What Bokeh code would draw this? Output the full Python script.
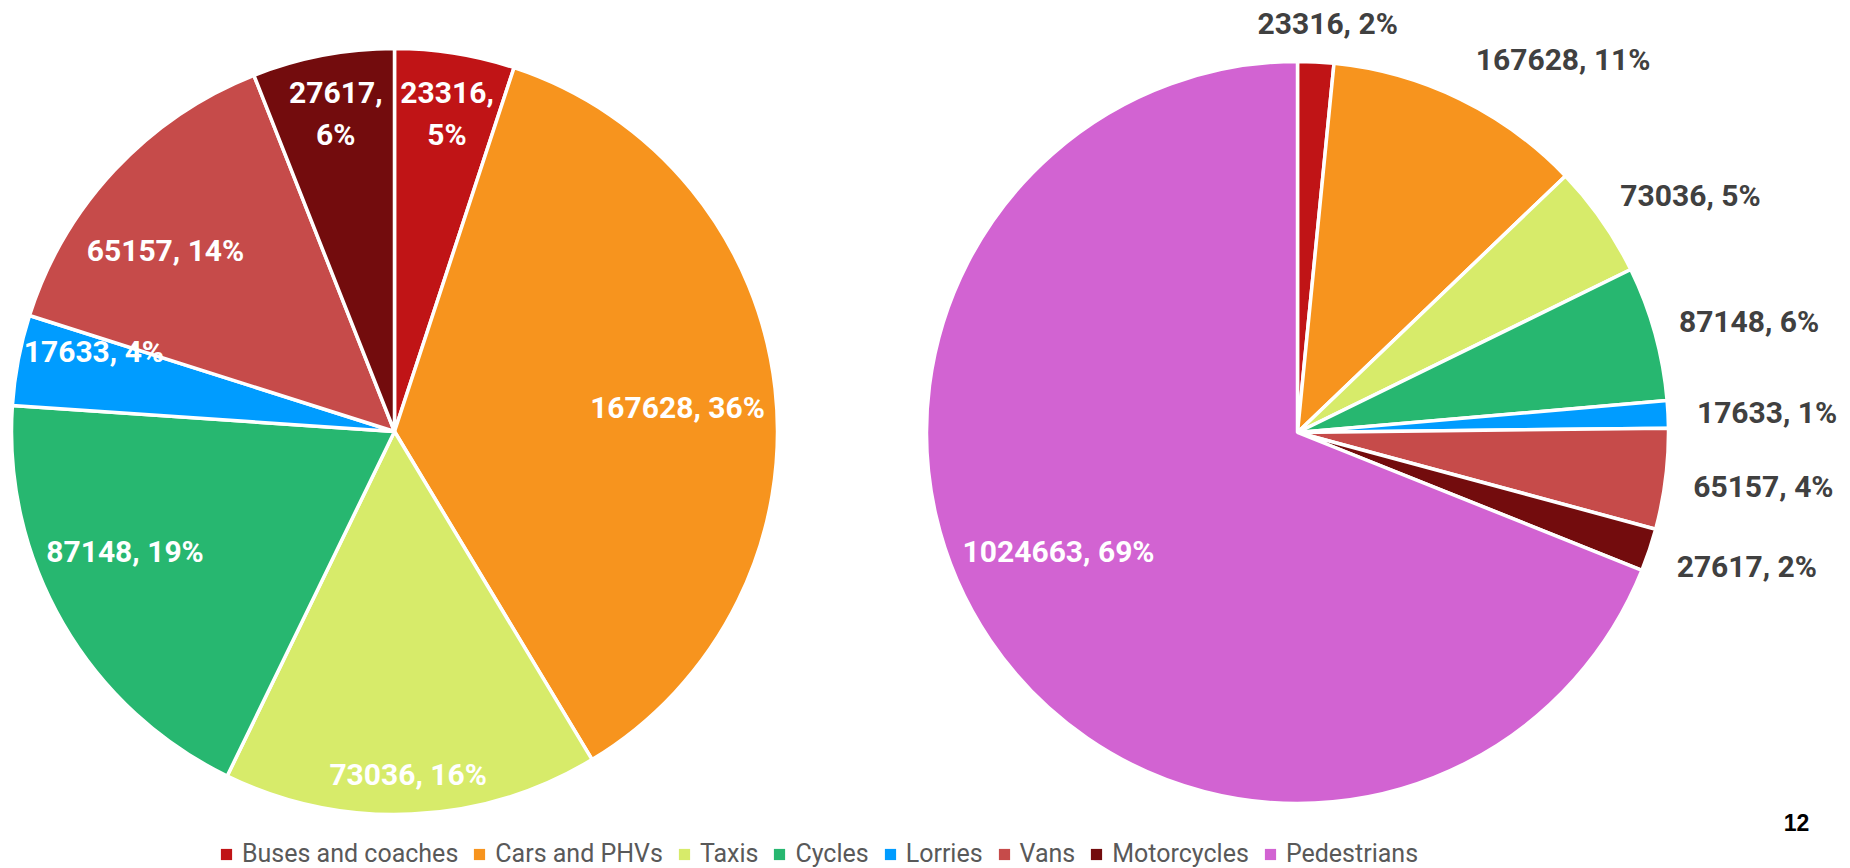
import numpy as np
from bokeh.plotting import figure
from bokeh.models import Range1d, Legend, LegendItem, ColumnDataSource
from bokeh.core.properties import value
from bokeh.embed import file_html
from bokeh.resources import INLINE

# ---------------- data ----------------
categories = ["Buses and coaches", "Cars and PHVs", "Taxis", "Cycles",
              "Lorries", "Vans", "Motorcycles", "Pedestrians"]
vehicle_values = [23316, 167628, 73036, 87148, 17633, 65157, 27617]
pedestrian_values = [1024663]
colors = ["#C01416", "#F7941E", "#D7EB6A", "#27B770",
          "#009CFF", "#C64B4A", "#730C0D", "#D263D2"]
page_number = "12"

# ---------------- layout ----------------
W, H = 1850, 868
FONT = "Roboto"


def to_data(xp, yp):
    # page pixel -> data coordinates
    return xp, H - yp


p = figure(width=W, height=H, x_range=Range1d(0, W), y_range=Range1d(0, H),
           output_backend="svg", toolbar_location=None, min_border=0)
p.axis.visible = False
p.grid.visible = False
p.outline_line_color = None
p.background_fill_color = "white"
p.border_fill_color = "white"


def pie(vals, cols, center, radius, label_r, label_nudge, seps, txt_color):
    vals = np.array(vals, dtype=float)
    frac = vals / vals.sum()
    cum = np.concatenate([[0.0], np.cumsum(frac)])
    start = np.pi / 2 - 2 * np.pi * cum[:-1]
    end = np.pi / 2 - 2 * np.pi * cum[1:]
    cx, cy = center
    src = ColumnDataSource(dict(start=start, end=end, color=cols))
    p.wedge(x=cx, y=cy, radius=radius, start_angle="start", end_angle="end",
            direction="clock", fill_color="color", line_color="white",
            line_width=3.5, source=src)
    mid = 360.0 * (cum[:-1] + frac / 2) + np.array(label_nudge)
    th = np.deg2rad(mid)
    lr = np.array(label_r)
    lx = cx + lr * np.sin(th)
    ly = cy + lr * np.cos(th)
    texts = [f"{int(v)}{s}{int(round(f * 100))}%" for v, s, f in zip(vals, seps, frac)]
    lsrc = ColumnDataSource(dict(x=lx, y=ly, text=texts, color=txt_color))
    p.text(x="x", y="y", text="text", source=lsrc, text_align="center",
           text_baseline="middle", text_font=value(FONT), text_font_style="bold",
           text_font_size="30px", text_color="color", text_line_height=1.2)


# left pie: vehicles only
left_center = to_data(394, 431)
pie(vehicle_values, colors[:7], left_center, 383,
    label_r=[322, 284, 343, 295, 311, 292, 323],
    label_nudge=[0.3, 1.6, 0.3, 6.1, 4.1, -4.7, 0.3],
    seps=[",\n", ", ", ", ", ", ", ", ", ", ", ",\n"],
    txt_color=["white"] * 7)

# right pie: vehicles + pedestrians
right_center = to_data(1297, 432)
pie(vehicle_values + pedestrian_values, colors, right_center, 371,
    label_r=[410, 458, 459, 465, 470, 469, 469, 267],
    label_nudge=[1.4, 9.5, 3.8, 1.7, 0.4, -0.6, -1.8, 7.6],
    seps=[", "] * 8,
    txt_color=["#404040"] * 7 + ["white"])

# page number
nx, ny = to_data(1796, 822)
p.text(x=[nx], y=[ny], text=[page_number], text_align="center", text_baseline="middle",
       text_font=value("Liberation Sans"), text_font_style="bold",
       text_font_size="23px", text_color="black")

# legend (colour swatches only; no visible marks of their own)
items = []
for cat, col in zip(categories, colors):
    r = p.quad(left=[np.nan], right=[np.nan], top=[np.nan], bottom=[np.nan],
               fill_color=col, line_color=None)
    items.append(LegendItem(label=cat, renderers=[r]))

legend = Legend(items=items, orientation="horizontal", location=(219, 0),
                glyph_width=14, glyph_height=14, label_standoff=9, spacing=14,
                padding=0, margin=0, border_line_color=None,
                background_fill_alpha=0, label_text_font=FONT,
                label_text_font_size="25px", label_text_color="#595959",
                label_height=28, label_text_baseline="middle")
p.add_layout(legend)

open("out.html", "w").write(file_html(p, INLINE))
